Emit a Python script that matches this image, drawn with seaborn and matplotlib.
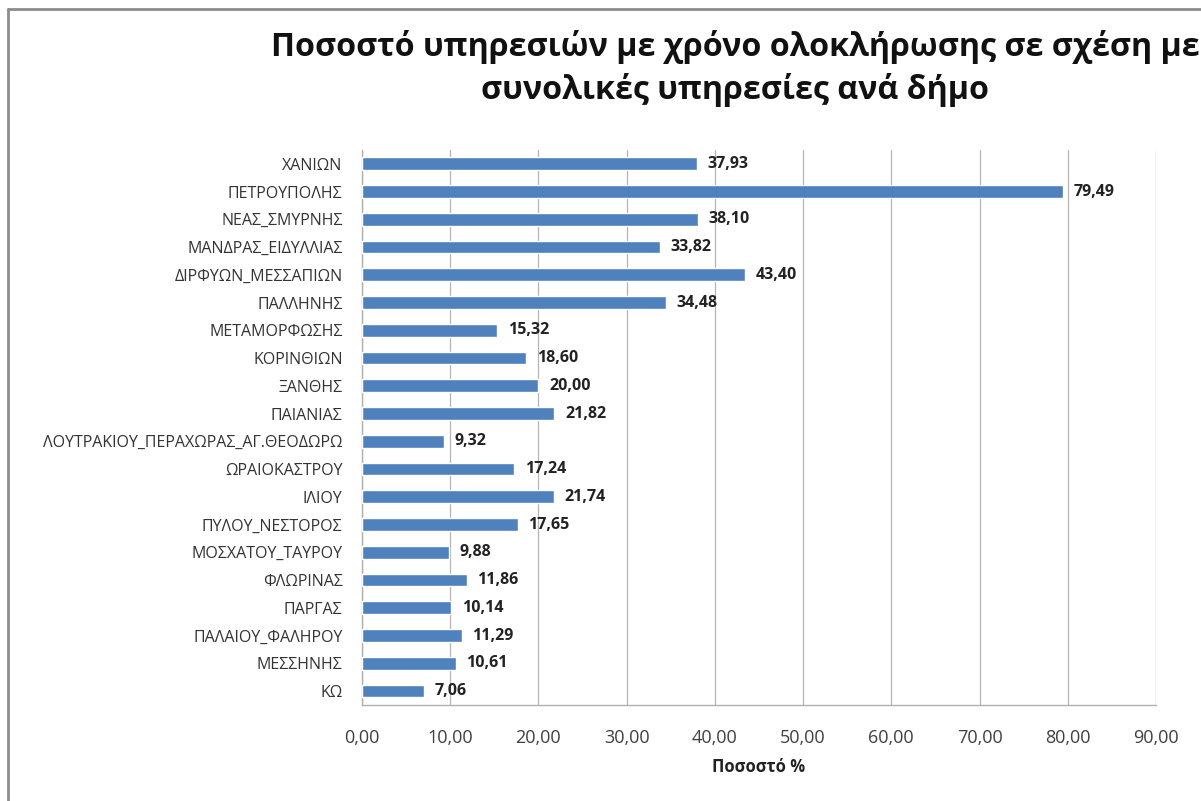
import matplotlib
matplotlib.use("Agg")
import matplotlib.pyplot as plt
import matplotlib.ticker as mticker
from matplotlib.lines import Line2D
import seaborn as sns
import pandas as pd
import numpy as np

municipalities = [
    "ΧΑΝΙΩΝ", "ΠΕΤΡΟΥΠΟΛΗΣ", "ΝΕΑΣ_ΣΜΥΡΝΗΣ", "ΜΑΝΔΡΑΣ_ΕΙΔΥΛΛΙΑΣ",
    "ΔΙΡΦΥΩΝ_ΜΕΣΣΑΠΙΩΝ", "ΠΑΛΛΗΝΗΣ", "ΜΕΤΑΜΟΡΦΩΣΗΣ", "ΚΟΡΙΝΘΙΩΝ",
    "ΞΑΝΘΗΣ", "ΠΑΙΑΝΙΑΣ", "ΛΟΥΤΡΑΚΙΟΥ_ΠΕΡΑΧΩΡΑΣ_ΑΓ.ΘΕΟΔΩΡΩ",
    "ΩΡΑΙΟΚΑΣΤΡΟΥ", "ΙΛΙΟΥ", "ΠΥΛΟΥ_ΝΕΣΤΟΡΟΣ", "ΜΟΣΧΑΤΟΥ_ΤΑΥΡΟΥ",
    "ΦΛΩΡΙΝΑΣ", "ΠΑΡΓΑΣ", "ΠΑΛΑΙΟΥ_ΦΑΛΗΡΟΥ", "ΜΕΣΣΗΝΗΣ", "ΚΩ",
]
percentages = [
    37.93, 79.49, 38.10, 33.82, 43.40, 34.48, 15.32, 18.60, 20.00, 21.82,
    9.32, 17.24, 21.74, 17.65, 9.88, 11.86, 10.14, 11.29, 10.61, 7.06,
]
x_ticks = [0, 10, 20, 30, 40, 50, 60, 70, 80, 90]

title = "Ποσοστό υπηρεσιών με χρόνο ολοκλήρωσης σε σχέση με\nσυνολικές υπηρεσίες ανά δήμο"
x_label = "Ποσοστό %"

df = pd.DataFrame({"municipality": municipalities, "pct": percentages})

sns.set_theme(style="white")
plt.rcParams["font.family"] = ["Open Sans", "DejaVu Sans"]

fig = plt.figure(figsize=(12.01, 8.01), dpi=100)
ax = fig.add_axes([0.3014, 0.1199, 0.6611, 0.6929])

bar_color = "#4F81BD"
sns.barplot(data=df, y="municipality", x="pct", orient="h", color=bar_color,
            width=0.46, saturation=1, ax=ax, zorder=3)

for patch, val in zip(ax.patches, percentages):
    y = patch.get_y() + patch.get_height() / 2
    ax.text(val + 1.2, y, f"{val:.2f}".replace(".", ","), va="center", ha="left",
            fontsize=11.5, fontweight="bold", color="#222222", zorder=4)

ax.set_xlim(0, 90)
ax.set_ylim(len(municipalities) - 0.5, -0.5)
ax.set_xticks(x_ticks)
ax.xaxis.set_major_formatter(mticker.FuncFormatter(lambda v, p: f"{v:.2f}".replace(".", ",")))
ax.tick_params(axis="x", labelsize=13, colors="#404040", length=8, width=1,
               direction="out", pad=9)
ax.tick_params(axis="x", color="#a0a0a0")
ax.tick_params(axis="y", labelsize=11.5, labelcolor="#333333", length=0, pad=14)

# small category-boundary ticks on the vertical axis
ax.set_yticks(np.arange(-0.5, len(municipalities), 1.0), minor=True)
ax.tick_params(axis="y", which="minor", length=4, width=0.8, color="#c9a0a0", direction="out")

ax.grid(axis="x", color="#b4b4b4", linewidth=0.9, zorder=0)
ax.grid(axis="y", visible=False)
for side in ["top", "right"]:
    ax.spines[side].set_visible(False)
ax.spines["left"].set_color("#b0b0b0")
ax.spines["bottom"].set_color("#b0b0b0")
ax.spines["left"].set_linewidth(1)
ax.spines["bottom"].set_linewidth(1)

ax.set_ylabel("")
ax.set_xlabel(x_label, fontsize=12, fontweight="bold", color="#222222", labelpad=8)

fig.text(0.612, 0.962, title, ha="center", va="top", fontsize=23.2,
         fontweight="bold", color="#111111", linespacing=1.32)

# outer chart frame
fig.add_artist(Line2D([0.0065, 0.0065], [0.0, 0.989], transform=fig.transFigure,
                      color="#8c8c8c", linewidth=2))
fig.add_artist(Line2D([0.0065, 1.0], [0.989, 0.989], transform=fig.transFigure,
                      color="#8c8c8c", linewidth=2))

fig.savefig("out.png", dpi=100)
